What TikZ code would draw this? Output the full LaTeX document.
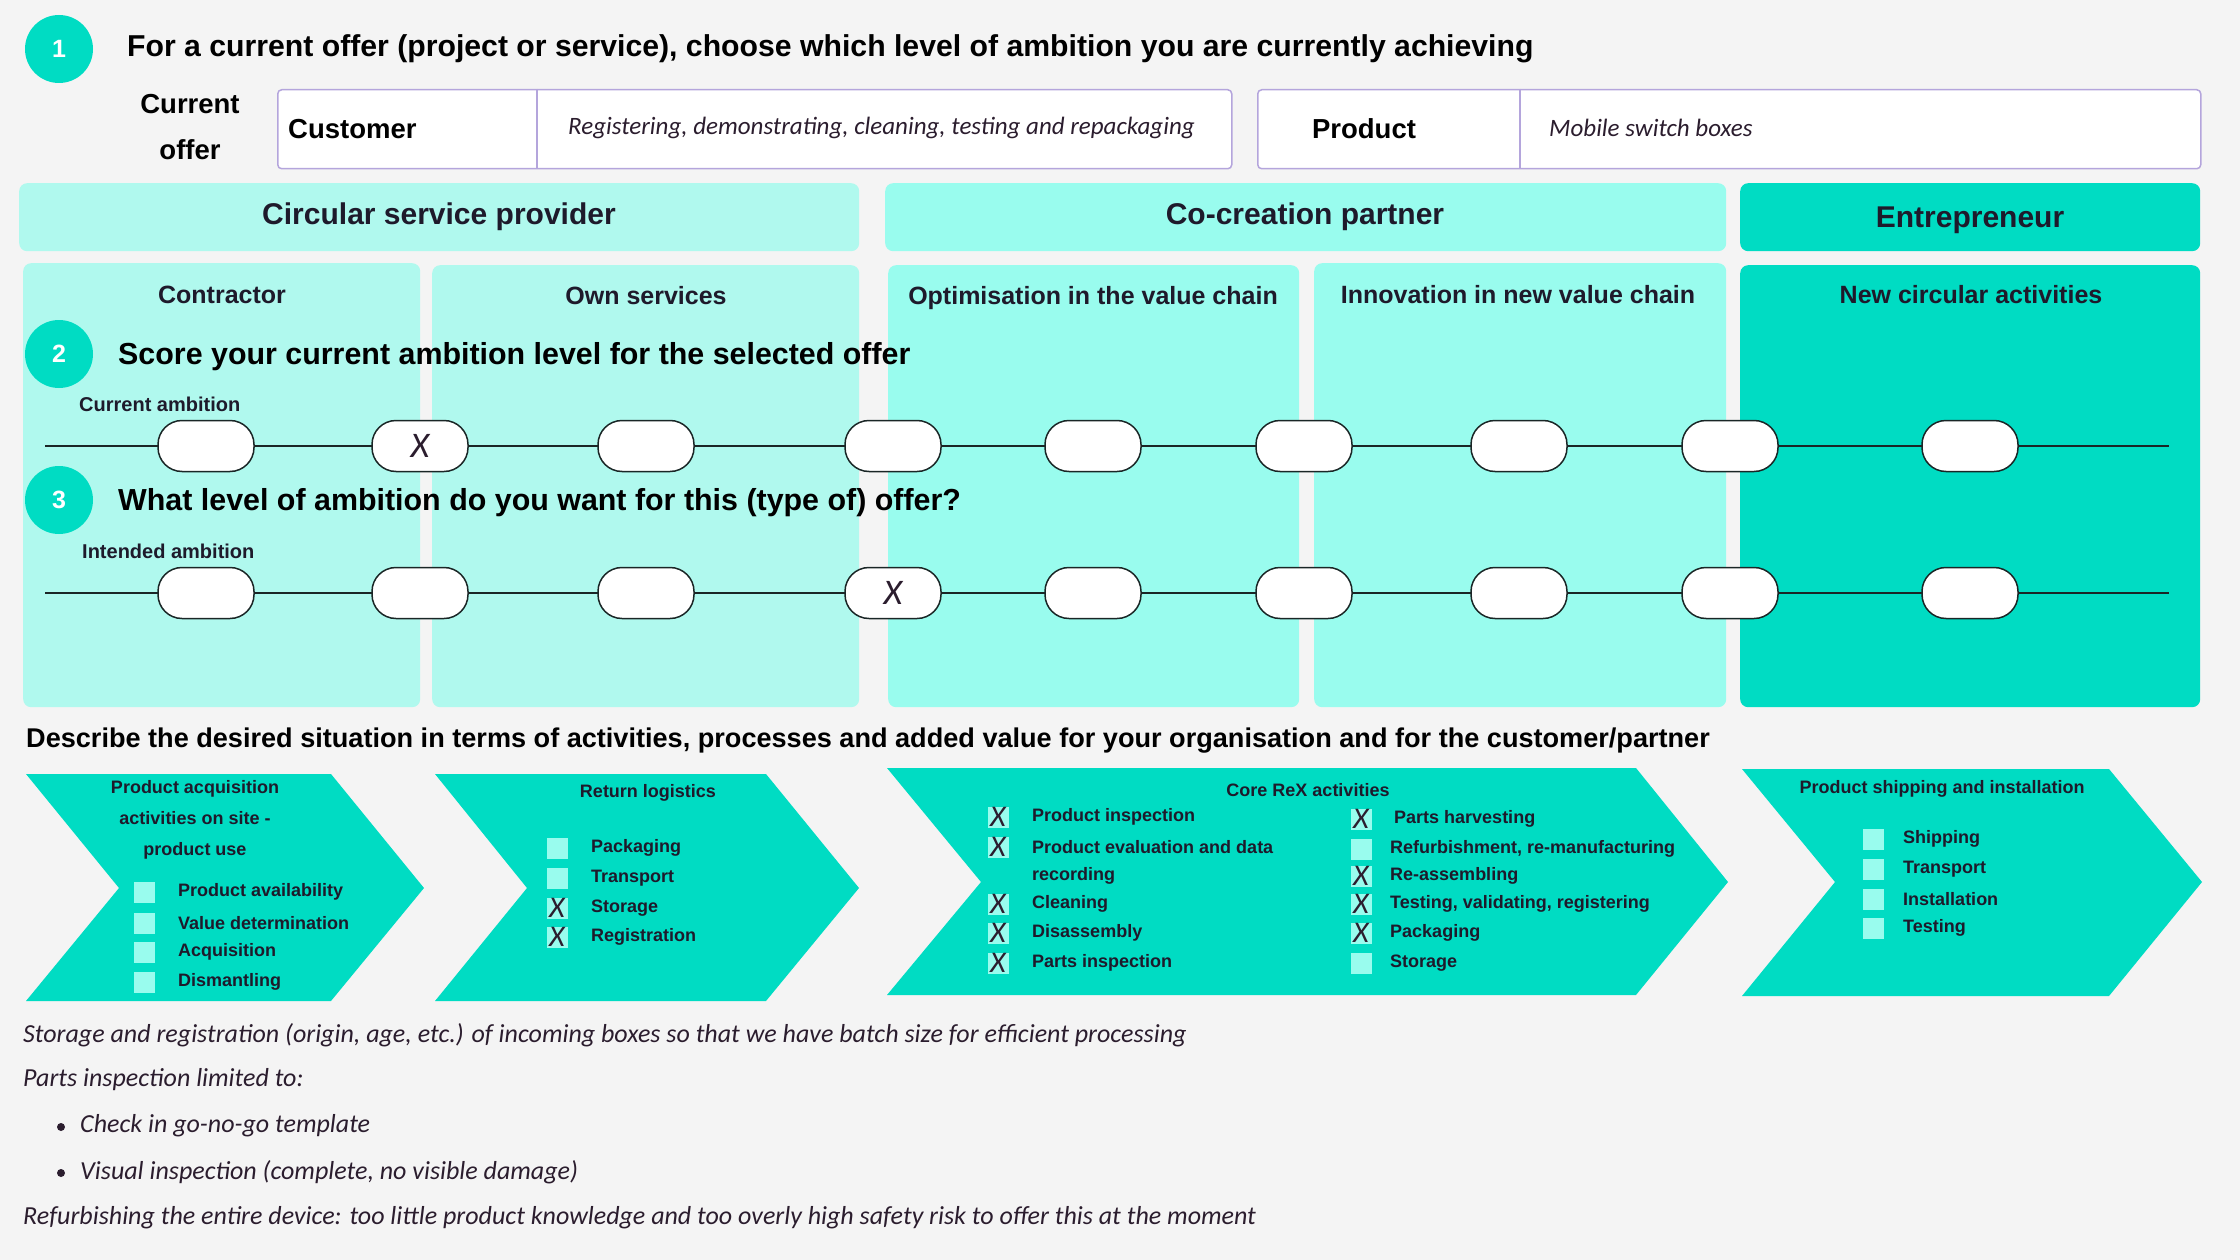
\documentclass[tikz,border=0pt]{standalone}
\usepackage{fontspec}
\setmainfont{Liberation Sans}
\newfontfamily\hand{Carlito}
\definecolor{bg}{HTML}{F4F4F4}
\definecolor{tq}{HTML}{00DCC3}
\definecolor{lightc}{HTML}{B0F9EE}
\definecolor{midc}{HTML}{99FCEE}
\definecolor{cbc}{HTML}{99FCEE}
\definecolor{ink}{HTML}{1E1A2B}
\definecolor{handc}{HTML}{2B1D2E}
\definecolor{lav}{HTML}{B4A5DC}
\definecolor{lnc}{HTML}{1A2626}
\begin{document}
\begin{tikzpicture}[x=1pt,y=-1pt,
  numc/.style={circle, fill=tq, minimum size=68, inner sep=0, text=white, font=\fontsize{25}{25}\selectfont\bfseries},
  ttl/.style={anchor=west, inner sep=0, text=black, font=\fontsize{30.2}{34}\selectfont\bfseries},
  hdr/.style={text=ink, inner sep=0, font=\fontsize{30}{34}\selectfont\bfseries},
  collab/.style={text=ink, inner sep=0, font=\fontsize{25}{30}\selectfont\bfseries},
  colbox/.style={anchor=north west, rounded corners=8, inner sep=0},
  amb/.style={anchor=west, inner sep=0, text=ink, font=\fontsize{20}{24}\selectfont\bfseries},
  oval/.style={draw=lnc, line width=1.5, fill=white, rounded corners=24, minimum width=96, minimum height=51, inner sep=0},
  xm/.style={text=handc, inner sep=0, font=\hand\itshape\fontsize{36}{36}\selectfont},
  xs/.style={text=handc, inner sep=0, font=\hand\itshape\fontsize{30}{30}\selectfont},
  item/.style={anchor=west, inner sep=0, text=ink, font=\fontsize{18}{22}\selectfont\bfseries},
  ctitle/.style={inner sep=0, text=ink, align=center, font=\fontsize{18}{31}\selectfont\bfseries},
  cb/.style={fill=cbc, minimum width=21, minimum height=21, inner sep=0},
  hw/.style={anchor=west, inner sep=0, text=handc, font=\hand\itshape\fontsize{26}{30}\selectfont},
  obox/.style={draw=lav, line width=1.5, fill=white, rounded corners=4, anchor=north west, inner sep=0},
  bold22/.style={inner sep=0, text=black, font=\fontsize{27.5}{30}\selectfont\bfseries},
  chev/.style={fill=tq}
]
\useasboundingbox (0,0) rectangle (2240,1260);
\fill[bg] (0,0) rectangle (2240,1260);

% ---- section 1
\node[numc] (n1) at (59,49) {1};
\node[ttl] (t1) at (127,49) {For a current offer (project or service), choose which level of ambition you are currently achieving};
\node[bold22, align=center, font=\fontsize{27.5}{46}\selectfont\bfseries] (co) at (190,127) {Current\\offer};
\node[obox, minimum width=954, minimum height=79] (cbox) at (277,89) {};
\coordinate (cd1) at (537,89); \coordinate (cd2) at (537,168);
\draw[lav, line width=1.2] (cd1) -- (cd2);
\node[bold22, anchor=west] (cust) at (288,129) {Customer};
\node[hw, font=\hand\itshape\fontsize{25}{30}\selectfont] (custt) at (568,128) {Registering, demonstrating, cleaning, testing and repackaging};
\node[obox, minimum width=943, minimum height=79] (pbox) at (1257,89) {};
\coordinate (pd1) at (1520,89); \coordinate (pd2) at (1520,168);
\draw[lav, line width=1.2] (pd1) -- (pd2);
\node[bold22] (prod) at (1364,129) {Product};
\node[hw, font=\hand\itshape\fontsize{25}{30}\selectfont] (prodt) at (1549,128) {Mobile switch boxes};

% ---- headers
\node[colbox, fill=lightc, minimum width=840, minimum height=68] (h1) at (19,183) {};
\node[colbox, fill=midc, minimum width=841, minimum height=68] (h2) at (885,183) {};
\node[colbox, fill=tq, minimum width=460, minimum height=68] (h3) at (1740,183) {};
\node[hdr] (h1t) at (439,217) {Circular service provider};
\node[hdr] (h2t) at (1305,217) {Co-creation partner};
\node[hdr] (h3t) at (1970,220) {Entrepreneur};

% ---- columns
\node[colbox, fill=lightc, minimum width=397, minimum height=444] (c1) at (23,263) {};
\node[colbox, fill=lightc, minimum width=427, minimum height=442] (c2) at (432,265) {};
\node[colbox, fill=midc, minimum width=411, minimum height=442] (c3) at (888,265) {};
\node[colbox, fill=midc, minimum width=412, minimum height=444] (c4) at (1314,263) {};
\node[colbox, fill=tq, minimum width=460, minimum height=442] (c5) at (1740,265) {};
\node[collab] (c1t) at (222,295) {Contractor};
\node[collab] (c2t) at (646,296) {Own services};
\node[collab] (c3t) at (1093,298) {Optimisation in the value chain};
\node[collab] (c4t) at (1518,295) {Innovation in new value chain};
\node[collab] (c5t) at (1971,295) {New circular activities};

% ---- section 2 and 3
\node[numc] (n2) at (59,354) {2};
\node[ttl, font=\fontsize{30.4}{34}\selectfont\bfseries] (t2) at (118,357) {Score your current ambition level for the selected offer};
\node[amb] (a2) at (79,404) {Current ambition};
\node[numc] (n3) at (59,500) {3};
\node[ttl, font=\fontsize{30.4}{34}\selectfont\bfseries] (t3) at (118,503) {What level of ambition do you want for this (type of) offer?};
\node[amb] (a3) at (82,551) {Intended ambition};

\coordinate (l1s) at (45,446); \coordinate (l1e) at (2169,446);
\coordinate (l2s) at (45,593); \coordinate (l2e) at (2169,593);
\draw[lnc, line width=2.5] (l1s) -- (l1e);
\draw[lnc, line width=2.5] (l2s) -- (l2e);
\foreach \x [count=\i] in {206,420,646,893,1093,1304,1519,1730,1970} {
  \node[oval] (oa\i) at (\x,446) {};
  \node[oval] (ob\i) at (\x,593) {};
}
\node[xm] (xa) at (oa2) {X};
\node[xm] (xb) at (ob4) {X};

% ---- section 4
\node[ttl, font=\fontsize{27.1}{31}\selectfont\bfseries] (t4) at (26,741) {Describe the desired situation in terms of activities, processes and added value for your organisation and for the customer/partner};

\fill[chev] (26,774) -- (331,774) -- (424,888) -- (331,1001) -- (26,1001) -- (119,888) -- cycle;
\fill[chev] (435,774) -- (766,774) -- (859,888) -- (766,1001) -- (435,1001) -- (527,888) -- cycle;
\fill[chev] (887,768) -- (1636,768) -- (1728,882) -- (1636,995) -- (887,995) -- (981,882) -- cycle;
\fill[chev] (1742,769) -- (2109,769) -- (2202,882) -- (2109,996) -- (1742,996) -- (1835,882) -- cycle;

% chevron 1
\node[ctitle] (k1t) at (195,820) {Product acquisition\\activities on site -\\product use};
\foreach \y/\t [count=\i] in {892/Product availability,923/Value determination,952/Acquisition,982/Dismantling} {
  \node[cb] (k1b\i) at (144,\y) {};
  \node[item] (k1i\i) at (178,\y) {\t};
}
% chevron 2
\node[ctitle] (k2t) at (648,793) {Return logistics};
\foreach \y/\t [count=\i] in {848/Packaging,878/Transport,908/Storage,937/Registration} {
  \node[cb] (k2b\i) at (557,\y) {};
  \node[item] (k2i\i) at (591,\y) {\t};
}
\node[xs] (k2x3) at (k2b3) {X};
\node[xs] (k2x4) at (k2b4) {X};
% chevron 3
\node[ctitle] (k3t) at (1308,790) {Core ReX activities};
\foreach \y/\t [count=\i] in {817/Product inspection,847/Product evaluation and data,904/Cleaning,933/Disassembly,963/Parts inspection} {
  \node[cb] (k3b\i) at (998,\y) {};
  \node[xs] (k3x\i) at (k3b\i) {X};
  \node[item] (k3i\i) at (1032,\y) {\t};
}
\node[item] (k3r) at (1032,876) {recording};
\foreach \y/\t [count=\i] in {849/{Refurbishment, re-manufacturing},876/Re-assembling,904/{Testing, validating, registering},933/Packaging,963/Storage} {
  \node[cb] (k3c\i) at (1361,\y) {};
  \node[item] (k3j\i) at (1390,\y) {\t};
}
\node[cb] (k3c0) at (1361,819) {};
\node[xs] (k3y0) at (k3c0) {X};
\node[item] (k3j0) at (1394,819) {Parts harvesting};
\node[xs] (k3y2) at (k3c2) {X};
\node[xs] (k3y3) at (k3c3) {X};
\node[xs] (k3y4) at (k3c4) {X};
% chevron 4
\node[ctitle] (k4t) at (1942,789) {Product shipping and installation};
\foreach \y/\t [count=\i] in {839/Shipping,869/Transport,899/Installation,928/Testing} {
  \node[cb] (k4b\i) at (1873,\y) {};
  \node[item] (k4i\i) at (1903,\y) {\t};
}

% ---- notes
\node[hw] (w1) at (23,1035) {Storage and registration (origin, age, etc.) of incoming boxes so that we have batch size for efficient processing};
\node[hw] (w2) at (23,1080) {Parts inspection limited to:};
\node[circle, fill=handc, minimum size=8, inner sep=0] (bu1) at (61,1127) {};
\node[hw] (w3) at (80,1126) {Check in go-no-go template};
\node[circle, fill=handc, minimum size=8, inner sep=0] (bu2) at (61,1173) {};
\node[hw] (w4) at (80,1172) {Visual inspection (complete, no visible damage)};
\node[hw] (w5) at (23,1218) {Refurbishing the entire device: too little product knowledge and too overly high safety risk to offer this at the moment};
\end{tikzpicture}
\end{document}
